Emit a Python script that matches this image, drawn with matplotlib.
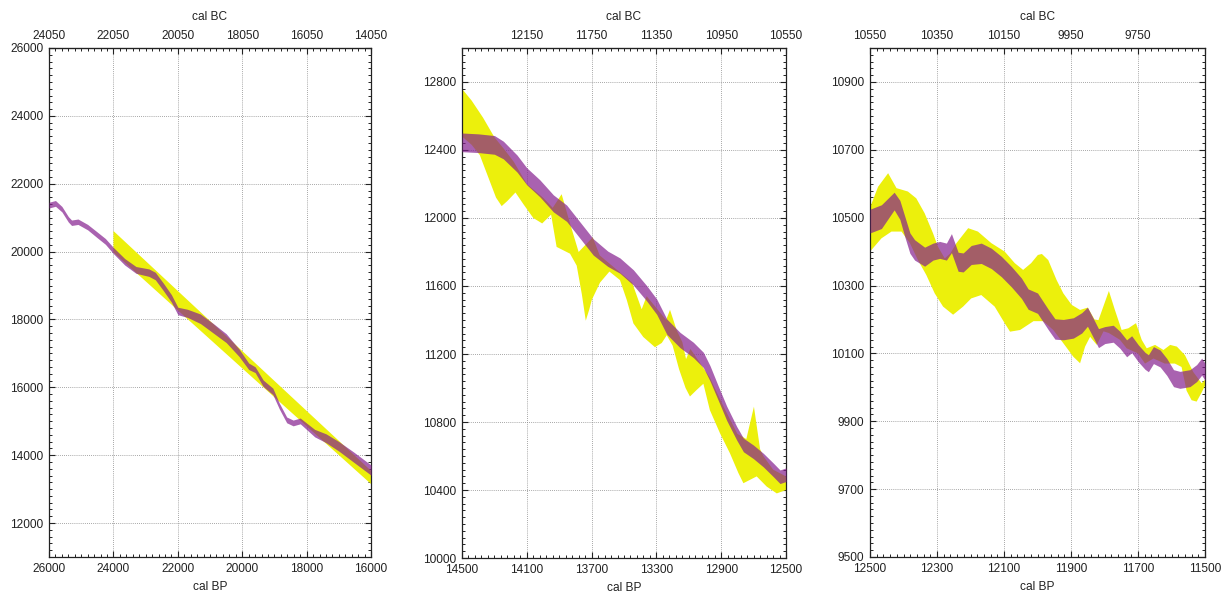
import numpy as np
import matplotlib
matplotlib.use('Agg')
import matplotlib.pyplot as plt
from matplotlib.ticker import FixedLocator, MultipleLocator

plt.rcParams['font.family'] = ['Liberation Sans', 'DejaVu Sans']

# ---------- panel 1 : 26000 - 16000 cal BP ----------
p1_bp = [26000, 25800, 25600, 25400, 25300, 25100, 24800, 24500, 24250, 24000,
         23650, 23300, 22900, 22700, 22450, 22200, 22000, 21700, 21300, 20900,
         20500, 20100, 19800, 19600, 19350, 19050, 18850, 18620, 18420, 18200,
         18000, 17750, 17400, 17000, 16550, 16000]
p1_mid = [21370, 21420, 21250, 20950, 20850, 20880, 20720, 20490, 20300, 20030,
          19700, 19460, 19380, 19280, 18960, 18620, 18250, 18180, 18020, 17740,
          17450, 17020, 16620, 16520, 16120, 15880, 15450, 15040, 14950, 15010,
          14850, 14650, 14500, 14260, 13950, 13560]
p1_err = [85, 85, 80, 80, 80, 80, 80, 85, 85, 90,
          95, 100, 110, 110, 110, 110, 110, 120, 140, 140,
          130, 110, 95, 85, 95, 95, 85, 85, 85, 85,
          95, 110, 130, 140, 150, 150]
p1_up_bp = [24000, 20000, 16000]
p1_up = [20608, 17070, 13540]
p1_lo_bp = [24000, 20000, 16000]
p1_lo = [19980, 16560, 13150]

# ---------- panel 2 : 14500 - 12500 cal BP ----------
p2_bp = [14500, 14400, 14300, 14245, 14160, 14100, 14020, 13936, 13854, 13772,
         13690, 13600, 13525, 13442, 13360, 13298, 13236, 13154, 13072, 13010,
         12969, 12918, 12866, 12804, 12763, 12702, 12640, 12578, 12537, 12500]
p2_mid = [12445, 12440, 12430, 12400, 12320, 12245, 12175, 12086, 12028, 11929,
          11830, 11760, 11720, 11650, 11557, 11478, 11361, 11282, 11224, 11165,
          11086, 10969, 10851, 10733, 10665, 10625, 10576, 10518, 10478, 10490]
p2_err = [55, 55, 55, 52, 50, 50, 50, 50, 48, 48,
          48, 45, 45, 45, 45, 45, 45, 45, 45, 45,
          45, 42, 42, 40, 40, 40, 40, 40, 40, 40]
p2_up_bp = [14500, 14440, 14370, 14300, 14240, 14180, 14100, 14000, 13940, 13885,
            13840, 13780, 13740, 13693, 13650, 13550, 13450, 13391, 13360, 13300,
            13240, 13216, 13175, 13140, 13117, 13090, 13040, 12990, 12969, 12940,
            12880, 12800, 12745, 12698, 12660, 12640, 12580, 12500]
p2_up = [12760, 12690, 12590, 12475, 12405, 12330, 12200, 12120, 12060, 12140,
         11990, 11800, 11840, 11886, 11780, 11700, 11620, 11463, 11540, 11470,
         11400, 11460, 11340, 11270, 11170, 11230, 11160, 11090, 11060, 11000,
         10880, 10730, 10700, 10890, 10640, 10600, 10520, 10480]
p2_lo_bp = [14500, 14440, 14390, 14330, 14290, 14255, 14220, 14170, 14120, 14060,
            14005, 13950, 13916, 13833, 13792, 13760, 13736, 13715, 13699, 13648,
            13590, 13525, 13483, 13442, 13381, 13309, 13267, 13236, 13200, 13160,
            13120, 13093, 13050, 13010, 12970, 12907, 12846, 12794, 12763, 12722,
            12681, 12619, 12557, 12500]
p2_lo = [12480, 12430, 12370, 12220, 12120, 12070, 12100, 12150, 12080, 12000,
         11968, 12020, 11830, 11790, 11720, 11550, 11396, 11460, 11518, 11620,
         11685, 11635, 11518, 11380, 11300, 11240, 11265, 11310, 11250, 11110,
         11000, 10950, 10990, 11025, 10870, 10733, 10616, 10500, 10440, 10460,
         10480, 10420, 10380, 10400]

# ---------- panel 3 : 12500 - 11500 cal BP ----------
p3_bp = [12500, 12466, 12428, 12411, 12396, 12381, 12367, 12337, 12312, 12292,
         12272, 12257, 12237, 12222, 12198, 12168, 12138, 12108, 12078, 12048,
         12028, 12000, 11968, 11948, 11923, 11893, 11868, 11851, 11833, 11818,
         11799, 11774, 11754, 11734, 11719, 11699, 11679, 11669, 11654, 11634,
         11614, 11594, 11575, 11545, 11525, 11510, 11500]
p3_mid = [10490, 10503, 10549, 10523, 10473, 10425, 10405, 10385, 10400, 10405,
          10400, 10425, 10370, 10368, 10390, 10395, 10380, 10356, 10326, 10292,
          10260, 10248, 10200, 10172, 10170, 10175, 10190, 10208, 10174, 10145,
          10154, 10158, 10140, 10115, 10127, 10100, 10078, 10071, 10095, 10085,
          10060, 10027, 10022, 10027, 10042, 10061, 10046]
p3_err = [35, 35, 26, 28, 30, 30, 30, 28, 25, 25,
          25, 28, 28, 28, 28, 30, 30, 30, 30, 30,
          30, 30, 30, 30, 30, 30, 30, 28, 28, 28,
          25, 25, 25, 25, 25, 25, 25, 25, 25, 25,
          25, 25, 25, 25, 25, 25, 25]
p3_up_bp = [12500, 12476, 12446, 12421, 12387, 12362, 12337, 12312, 12297, 12277,
            12260, 12242, 12207, 12178, 12138, 12098, 12068, 12043, 12019, 11999,
            11987, 11968, 11943, 11923, 11898, 11873, 11850, 11830, 11818, 11787,
            11769, 11749, 11729, 11706, 11689, 11674, 11649, 11624, 11604, 11584,
            11560, 11535, 11510, 11500]
p3_up = [10530, 10591, 10631, 10587, 10577, 10557, 10513, 10454, 10414, 10380,
         10395, 10425, 10469, 10459, 10425, 10400, 10366, 10346, 10366, 10390,
         10393, 10375, 10316, 10277, 10243, 10228, 10235, 10200, 10198, 10284,
         10228, 10169, 10174, 10189, 10140, 10115, 10125, 10110, 10125, 10120,
         10095, 10045, 10012, 10022]
p3_lo_bp = [12500, 12466, 12436, 12406, 12381, 12357, 12332, 12307, 12282, 12252,
            12222, 12198, 12168, 12128, 12098, 12082, 12052, 12012, 11983, 11953,
            11923, 11893, 11873, 11858, 11843, 11823, 11803, 11787, 11754, 11734,
            11700, 11679, 11654, 11620, 11590, 11570, 11555, 11540, 11525, 11510,
            11500]
p3_lo = [10400, 10439, 10459, 10459, 10425, 10375, 10331, 10277, 10238, 10214,
         10238, 10262, 10272, 10238, 10189, 10164, 10169, 10195, 10195, 10169,
         10130, 10090, 10071, 10120, 10149, 10125, 10165, 10160, 10140, 10115,
         10100, 10070, 10085, 10070, 10070, 10060, 9990, 9962, 9958, 9985,
         10005]

YELLOW = '#ecf00c'
PURPLE = '#85208f'

fig = plt.figure(figsize=(12.32, 5.94), dpi=100)

panels = [
    dict(rect=[0.0398, 0.0623, 0.2614, 0.8569], xlim=(26000, 16000), ylim=(11000, 26000),
         xstep=2000, ystep=2000, yticks=np.arange(12000, 26001, 2000),
         bc=np.arange(24050, 14049, -2000),
         bp=p1_bp, mid=p1_mid, err=p1_err,
         up_bp=p1_up_bp, up=p1_up, lo_bp=p1_lo_bp, lo=p1_lo),
    dict(rect=[0.3750, 0.0606, 0.2630, 0.8586], xlim=(14500, 12500), ylim=(10000, 13000),
         xstep=400, ystep=400, yticks=np.arange(10000, 12801, 400),
         bc=np.arange(12150, 10549, -400),
         bp=p2_bp, mid=p2_mid, err=p2_err,
         up_bp=p2_up_bp, up=p2_up, lo_bp=p2_lo_bp, lo=p2_lo),
    dict(rect=[0.7062, 0.0623, 0.2719, 0.8569], xlim=(12500, 11500), ylim=(9500, 11000),
         xstep=200, ystep=200, yticks=np.arange(9500, 10901, 200),
         bc=np.arange(10550, 9749, -200),
         bp=p3_bp, mid=p3_mid, err=p3_err,
         up_bp=p3_up_bp, up=p3_up, lo_bp=p3_lo_bp, lo=p3_lo),
]

FS = 8.6
for p in panels:
    ax = fig.add_axes(p['rect'])
    # yellow band drawn as a polygon from its upper and lower edges
    xs = np.concatenate([p['up_bp'], p['lo_bp'][::-1]])
    ys = np.concatenate([p['up'], p['lo'][::-1]])
    ax.fill(xs, ys, color=YELLOW, lw=0, zorder=2)
    mid = np.array(p['mid'])
    err = np.array(p['err'])
    ax.fill_between(p['bp'], mid - err, mid + err, color=PURPLE, alpha=0.7, lw=0, zorder=3)

    x0, x1 = p['xlim']
    ax.set_xlim(x0, x1)
    ax.set_ylim(p['ylim'])
    ax.set_xticks(np.arange(x1, x0 + 1, p['xstep']))
    ax.xaxis.set_minor_locator(FixedLocator(np.arange(x1, x0 + 1, p['xstep'] / 10)))
    ax.set_yticks(p['yticks'])
    ax.yaxis.set_minor_locator(MultipleLocator(p['ystep'] / 10))
    ax.grid(True, which='major', color='#8a8a8a', linestyle=(0, (1, 1.5)), linewidth=0.6, zorder=0)
    ax.set_axisbelow(True)
    ax.tick_params(which='both', direction='in', top=True, right=True, labelsize=FS,
                   colors='#222222', pad=4)
    ax.tick_params(which='major', length=4, width=0.8)
    ax.tick_params(which='minor', length=2.2, width=0.7)
    for s in ax.spines.values():
        s.set_linewidth(0.9)
        s.set_color('#222222')
    ax.set_xlabel('cal BP', fontsize=FS, labelpad=4.5, color='#222222')

    sec = ax.secondary_xaxis('top', functions=(lambda x: x - 1950, lambda x: x + 1950))
    sec.set_xticks(p['bc'])
    sec.tick_params(length=0, labelsize=FS, colors='#222222', pad=4)
    sec.set_xlabel('cal BC', fontsize=FS, labelpad=7.5, color='#222222')

fig.savefig('out.png', dpi=100)
